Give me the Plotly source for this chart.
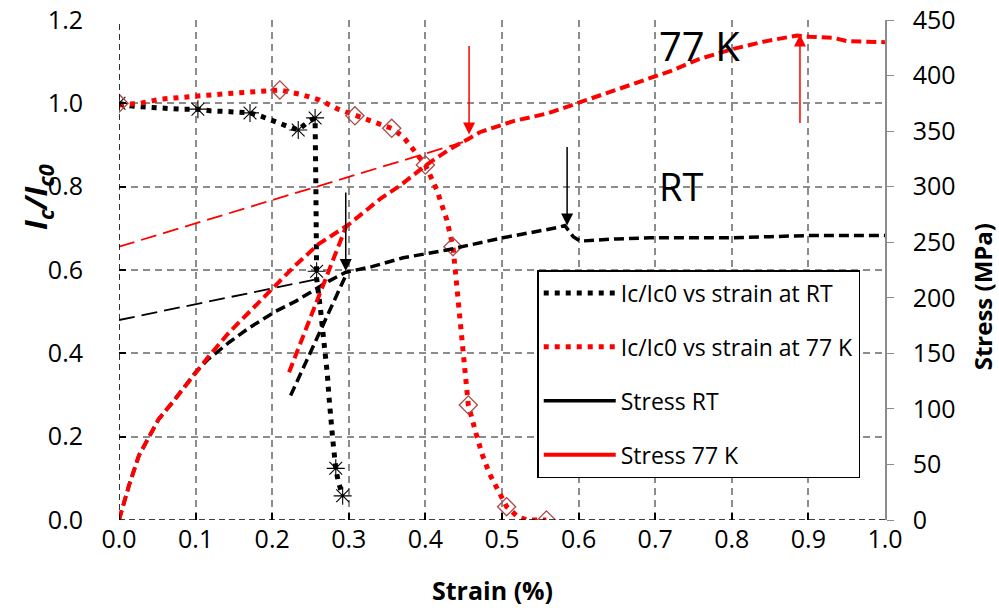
import plotly.graph_objects as go

# ---------------- data ----------------
# Ic/Ic0 at RT (dotted line)
ic_rt_strain = [0, 0.014, 0.027, 0.04, 0.067, 0.08, 0.103, 0.119, 0.145, 0.171, 0.184, 0.197, 0.21,
                0.221, 0.234, 0.245, 0.256, 0.257, 0.258, 0.263, 0.268, 0.272, 0.274, 0.276, 0.279,
                0.283, 0.286, 0.292]
ic_rt_val = [1.0, 0.994, 0.992, 0.99, 0.988, 0.986, 0.986, 0.982, 0.98, 0.977, 0.970, 0.962, 0.952,
             0.944, 0.936, 0.953, 0.965, 0.8, 0.58, 0.506, 0.426, 0.35, 0.298, 0.25, 0.194,
             0.124, 0.094, 0.058]
# measured points (markers) RT
ic_rt_pts_strain = [0, 0.103, 0.171, 0.234, 0.256, 0.258, 0.283, 0.292]
ic_rt_pts_val = [1.0, 0.986, 0.977, 0.936, 0.965, 0.597, 0.124, 0.058]

# Ic/Ic0 at 77 K (dotted line)
ic_77_strain = [0, 0.027, 0.054, 0.08, 0.106, 0.132, 0.158, 0.184, 0.21, 0.236, 0.262, 0.286, 0.308,
                0.33, 0.356, 0.371, 0.389, 0.4, 0.415, 0.428, 0.436, 0.442, 0.448, 0.452, 0.456,
                0.466, 0.474, 0.484, 0.496, 0.506, 0.521, 0.533, 0.558]
ic_77_val = [0.996, 1.0, 1.01, 1.015, 1.018, 1.022, 1.026, 1.028, 1.032, 1.022, 1.008, 0.986, 0.972,
             0.955, 0.94, 0.92, 0.88, 0.852, 0.792, 0.72, 0.656, 0.55, 0.42, 0.36, 0.276,
             0.208, 0.158, 0.11, 0.064, 0.032, 0.007, 0.0, 0.0]
ic_77_pts_strain = [0, 0.21, 0.308, 0.356, 0.4, 0.436, 0.456, 0.506, 0.558]
ic_77_pts_val = [1.0, 1.032, 0.97, 0.94, 0.852, 0.656, 0.276, 0.032, 0.0]

# Stress RT (MPa) - main curve, then reload segment
st_rt_strain = [0, 0.013, 0.026, 0.04, 0.052, 0.07, 0.087, 0.1, 0.117, 0.144, 0.17, 0.205, 0.231,
                0.257, 0.274, 0.296, 0.33, 0.371, 0.428, 0.501, 0.55, 0.571, 0.582, 0.593, 0.602,
                0.65, 0.693, 0.75, 0.798, 0.85, 0.898, 1.0,
                None, 0.224, 0.298]
st_rt_val = [0, 31, 58, 76, 91, 106, 121, 133, 145, 160, 173, 188, 197,
             208, 215, 223, 228, 236, 243, 254, 260, 263, 265, 255, 251,
             253, 254, 254, 254, 255, 256, 256,
             None, 112, 223]

# Stress 77 K (MPa) - main curve, then reload segment
st_77_strain = [0, 0.013, 0.026, 0.04, 0.052, 0.07, 0.087, 0.1, 0.118, 0.144, 0.17, 0.2, 0.23,
                0.26, 0.3, 0.341, 0.367, 0.4, 0.43, 0.456, 0.471, 0.515, 0.56, 0.602, 0.64, 0.68,
                0.72, 0.758, 0.802, 0.845, 0.885, 0.902, 0.932, 0.95, 1.0,
                None, 0.222, 0.297]
st_77_val = [0, 31, 58, 76, 91, 106, 121, 133, 148, 169, 187, 208, 229,
             248, 266, 289, 301, 319, 333, 343, 349, 359, 366, 376, 385, 394,
             404, 415, 424, 431, 436, 435, 434, 431, 430,
             None, 133, 265]

# tangent (elastic-extrapolation) lines
tan_rt_strain = [0, 0.26]
tan_rt_val = [180, 217]
tan_77_strain = [0, 0.449]
tan_77_val = [246, 340]

# arrows (tip positions on stress axis) and their pixel offsets
arrow_strain = [0.296, 0.585, 0.457, 0.889]
arrow_stress = [224, 265, 347, 437]
arrow_dy = [-80, -80, -90, 90]
arrow_color = ["black", "black", "red", "red"]

x_ticks = [0.0, 0.1, 0.2, 0.3, 0.4, 0.5, 0.6, 0.7, 0.8, 0.9, 1.0]

FONT = "Open Sans"

fig = go.Figure()

# tangent lines
fig.add_trace(go.Scatter(x=tan_rt_strain, y=tan_rt_val, yaxis="y2", mode="lines",
                         line=dict(color="black", width=1.8, dash="16px,7px"), showlegend=False))
fig.add_trace(go.Scatter(x=tan_77_strain, y=tan_77_val, yaxis="y2", mode="lines",
                         line=dict(color="red", width=1.8, dash="16px,7px"), showlegend=False))

# stress curves (dashed, thick)
fig.add_trace(go.Scatter(x=st_rt_strain, y=st_rt_val, yaxis="y2", mode="lines",
                         line=dict(color="black", width=3.5, dash="10px,5px"), showlegend=False))
fig.add_trace(go.Scatter(x=st_77_strain, y=st_77_val, yaxis="y2", mode="lines",
                         line=dict(color="red", width=4, dash="10px,5px"), showlegend=False))

# Ic curves
fig.add_trace(go.Scatter(x=ic_rt_strain, y=ic_rt_val, mode="lines",
                         line=dict(color="black", width=5, dash="5px,6px"),
                         name="Ic/Ic0 vs strain at RT", legendgroup="a"))
fig.add_trace(go.Scatter(x=ic_77_strain, y=ic_77_val, mode="lines",
                         line=dict(color="red", width=5, dash="5px,6px"),
                         name="Ic/Ic0 vs strain at 77 K", legendgroup="b"))
fig.add_trace(go.Scatter(x=ic_rt_pts_strain, y=ic_rt_pts_val, mode="markers",
                         marker=dict(symbol="asterisk-open", size=15, color="black",
                                     line=dict(color="black", width=1.1)), showlegend=False))
fig.add_trace(go.Scatter(x=ic_77_pts_strain, y=ic_77_pts_val, mode="markers",
                         marker=dict(symbol="diamond-open", size=14, color="#a84a4a",
                                     line=dict(color="#a84a4a", width=1.3)), showlegend=False))

# legend-only entries for stress (solid in the legend)
fig.add_trace(go.Scatter(x=[None], y=[None], mode="lines", line=dict(color="black", width=3.5),
                         name="Stress RT", legendgroup="c"))
fig.add_trace(go.Scatter(x=[None], y=[None], mode="lines", line=dict(color="red", width=4),
                         name="Stress 77 K", legendgroup="d"))

annotations = []
for xs, ys, dy, c in zip(arrow_strain, arrow_stress, arrow_dy, arrow_color):
    annotations.append(dict(x=xs, y=ys, xref="x", yref="y2", ax=0, ay=dy, text="",
                            showarrow=True, arrowhead=2, arrowsize=1.6, arrowwidth=1.5,
                            arrowcolor=c))

annotations += [
    dict(x=0.758, y=0.95, xref="paper", yref="paper", text="77 K", showarrow=False,
         xanchor="center", yanchor="middle",
         font=dict(family=FONT, size=40, color="black")),
    dict(x=0.734, y=0.668, xref="paper", yref="paper", text="RT", showarrow=False,
         xanchor="center", yanchor="middle",
         font=dict(family=FONT, size=38, color="black")),
    dict(x=-0.107, y=0.646, xref="paper", yref="paper",
         text="<b><i>I<sub>c</sub>/I<sub>c0</sub></i></b>", showarrow=False, textangle=-90,
         xanchor="center", yanchor="middle",
         font=dict(family=FONT, size=31, color="black")),
    dict(x=1.127, y=0.446, xref="paper", yref="paper", text="<b>Stress (MPa)</b>",
         xanchor="center", yanchor="middle",
         showarrow=False, textangle=-90, font=dict(family=FONT, size=24, color="black")),
    dict(x=0.487, y=-0.14, xref="paper", yref="paper", text="<b>Strain (%)</b>",
         xanchor="center", yanchor="middle",
         showarrow=False, font=dict(family=FONT, size=25, color="black")),
]

shapes = [
    dict(type="line", xref="x", yref="y", x0=0, x1=0, y0=0, y1=1.2,
         line=dict(color="black", width=1.6, dash="6px,4px"), layer="above"),
    dict(type="line", xref="x", yref="y", x0=0, x1=1.0, y0=0, y1=0,
         line=dict(color="black", width=1.6, dash="6px,4px"), layer="above"),
]

fig.update_layout(
    width=999, height=608,
    margin=dict(l=119, r=114, t=20, b=88, autoexpand=False),
    paper_bgcolor="white", plot_bgcolor="white",
    font=dict(family=FONT, size=25, color="black"),
    xaxis=dict(range=[0, 1.0], tickvals=x_ticks, tickformat=".1f", showgrid=True,
               gridcolor="#8c8c8c", gridwidth=1.5, griddash="7px,5px", zeroline=False,
               showline=False, ticks="inside", ticklen=7, tickcolor="black", tickwidth=1.5,
               tickfont=dict(size=25), ticklabelstandoff=2, automargin=False),
    yaxis=dict(range=[0, 1.2], dtick=0.2, tickformat=".1f", showgrid=True,
               gridcolor="#8c8c8c", gridwidth=1.5, griddash="7px,5px", zeroline=False,
               showline=False, ticks="inside", ticklen=7, tickcolor="black", tickwidth=1.5,
               tickfont=dict(size=25), ticklabelstandoff=22, ticksuffix="\u00a0\u00a0",
               automargin=False),
    yaxis2=dict(range=[0, 450], dtick=50, overlaying="y", side="right", showgrid=False,
                zeroline=False, showline=True, linecolor="#8c8c8c", linewidth=1.5,
                ticks="outside", ticklen=7, tickcolor="#8c8c8c", tickfont=dict(size=25),
                ticklabelstandoff=14, automargin=False),
    legend=dict(x=0.546, y=0.5, xanchor="left", yanchor="top", bgcolor="white",
                bordercolor="black", borderwidth=1.5, font=dict(family=FONT, size=23),
                tracegroupgap=21, itemwidth=72),
    annotations=annotations,
    shapes=shapes,
)

fig.write_html("out.html")
